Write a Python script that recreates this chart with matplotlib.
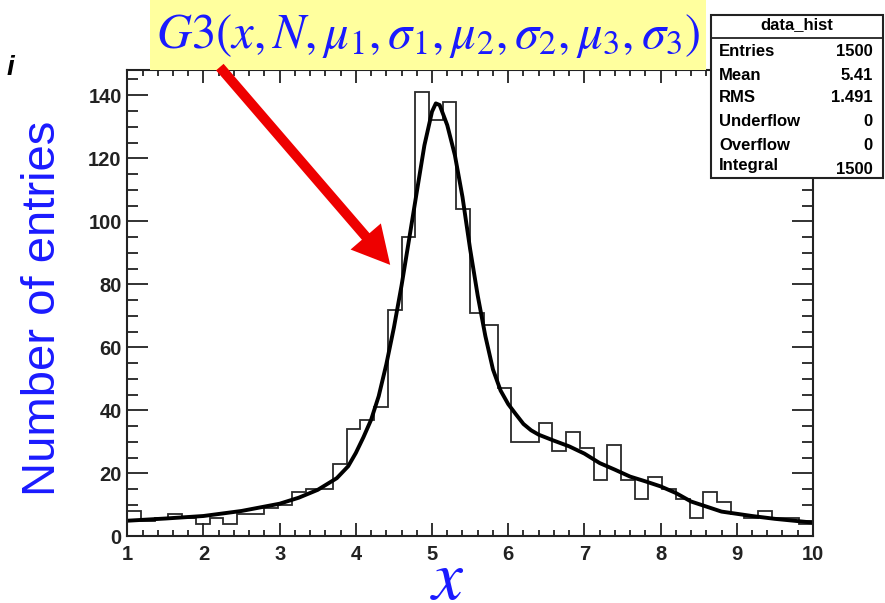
import numpy as np
import matplotlib
matplotlib.use("Agg")
import matplotlib.pyplot as plt
from matplotlib.patches import Rectangle, FancyArrowPatch
from matplotlib.ticker import MultipleLocator

# histogram contents: 50 bins between 1 and 10
x_lo, x_hi = 1.0, 10.0
counts = [8, 5, 6, 7, 6, 4, 6, 4, 7, 7,
          9, 10, 14, 15, 15, 23, 34, 37, 41, 72,
          95, 141, 132, 138, 104, 71, 67, 47, 30, 30,
          36, 27, 33, 28, 18, 29, 18, 12, 19, 15,
          12, 6, 14, 11, 7, 6, 8, 6, 6, 4]

# fitted curve
curve_x = [1.0, 1.5, 2.0, 2.5, 3.0, 3.25, 3.5, 3.75, 3.9, 4.0, 4.1, 4.2, 4.3, 4.4, 4.5,
           4.6, 4.7, 4.8, 4.9, 5.0, 5.05, 5.1, 5.2, 5.3, 5.4, 5.5, 5.6, 5.7, 5.8,
           5.9, 6.0, 6.1, 6.2, 6.3, 6.4, 6.6, 6.8, 7.0, 7.2, 7.4, 7.6, 7.8, 8.0, 8.2, 8.4,
           8.6, 8.8, 9.0, 9.2, 9.5, 10.0]
curve_y = [5.0, 5.7, 6.5, 8.1, 10.4, 12.3, 14.8, 18.5, 22.3, 26.5, 31.5, 37.0, 44.5, 54.6, 66.3,
           79.6, 94.4, 109.3, 124.1, 134.8, 137.4, 136.9, 130.5, 121.0, 107.7, 91.2, 76.4, 63.6, 53.0,
           46.3, 42.0, 38.8, 35.7, 33.7, 32.3, 30.4, 28.6, 26.3, 23.3, 21.2, 19.0, 17.5, 15.9, 13.8, 11.1,
           9.5, 7.9, 7.2, 6.5, 5.6, 4.4]

stat_names = ["Entries", "Mean", "RMS", "Underflow", "Overflow", "Integral"]
stat_values = ["1500", "5.41", "1.491", "0", "0", "1500"]

blue = "#1a1aff"
sans = "Liberation Sans"

fig = plt.figure(figsize=(8.85, 6.03), dpi=100)
plt.rcParams["mathtext.fontset"] = "stix"
ax = fig.add_axes([0.1438, 0.1103, 0.7748, 0.7736])

edges = np.linspace(x_lo, x_hi, len(counts) + 1)
ax.stairs(counts, edges, color="#2a2a2a", lw=1.3)
ax.plot(curve_x, curve_y, color="black", lw=2.8, solid_capstyle="round", solid_joinstyle="round")

ax.set_xlim(x_lo, x_hi)
ax.set_ylim(0, 148)
ax.xaxis.set_major_locator(MultipleLocator(1))
ax.xaxis.set_minor_locator(MultipleLocator(0.2))
ax.yaxis.set_major_locator(MultipleLocator(20))
ax.yaxis.set_minor_locator(MultipleLocator(5))
ax.tick_params(which="both", direction="in", top=True, right=True, width=1.3, colors="#222")
ax.tick_params(axis="y", which="major", length=15, pad=4)
ax.tick_params(axis="y", which="minor", length=8)
ax.tick_params(axis="x", which="major", length=9.5, pad=6)
ax.tick_params(axis="x", which="minor", length=4.5)
for lab in ax.get_xticklabels() + ax.get_yticklabels():
    lab.set_fontfamily(sans)
    lab.set_fontweight("bold")
    lab.set_fontsize(14.5)
for sp in ax.spines.values():
    sp.set_linewidth(1.5)
    sp.set_color("#222")

# axis titles
fig.text(43 / 885, 1 - 308 / 603, "Number of entries", rotation=90, ha="center",
         va="center", color=blue, fontsize=34, family=sans)
fig.text(447 / 885, 1 - 579 / 603, r"$x$", ha="center", va="center", color=blue, fontsize=50)
fig.text(10 / 885, 1 - 68 / 603, "i", ha="center", va="center", fontsize=20,
         style="italic", weight="bold", family=sans)

# yellow formula box
fig.patches.append(Rectangle((150 / 885, 1 - 70 / 603), 556 / 885, 70 / 603,
                             transform=fig.transFigure, facecolor="#ffff9e",
                             edgecolor="none", zorder=3))
fig.text(428 / 885, 1 - 36 / 603,
         r"$G3(x,N,\mu_1,\sigma_1,\mu_2,\sigma_2,\mu_3,\sigma_3)$",
         ha="center", va="center", color=blue, fontsize=35, zorder=4)

# red arrow
arrow = FancyArrowPatch((218 / 885, 1 - 65 / 603), (392 / 885, 1 - 267 / 603),
                        transform=fig.transFigure,
                        arrowstyle="simple,head_length=1.5,head_width=1.6,tail_width=0.4",
                        mutation_scale=18, color="#ee0000", lw=0, zorder=5)
fig.patches.append(arrow)

# stats box
bx0, bx1 = 711 / 885, 883 / 885
by0, by1 = 1 - 178 / 603, 1 - 15 / 603
fig.patches.append(Rectangle((bx0, by0), bx1 - bx0, by1 - by0, transform=fig.transFigure,
                             facecolor="white", edgecolor="#222", lw=1.5, zorder=6))
fig.add_artist(plt.Line2D([bx0, bx1], [1 - 38 / 603] * 2, transform=fig.transFigure,
                          color="#222", lw=1.3, zorder=7))
fig.text((bx0 + bx1) / 2, 1 - 25 / 603, "data_hist", ha="center", va="center",
         fontsize=12, weight="bold", family=sans, zorder=7)
row_y = [51.7, 75, 98, 121.7, 145, 165.7]
for name, val, yy in zip(stat_names, stat_values, row_y):
    fig.text(719 / 885, 1 - yy / 603, name, ha="left", va="center", fontsize=12,
             weight="bold", family=sans, zorder=7)
    fig.text(873 / 885, 1 - (yy + (4 if name == "Integral" else 0)) / 603, val,
             ha="right", va="center", fontsize=12, weight="bold", family=sans, zorder=7)

fig.savefig("out.png", dpi=100)
